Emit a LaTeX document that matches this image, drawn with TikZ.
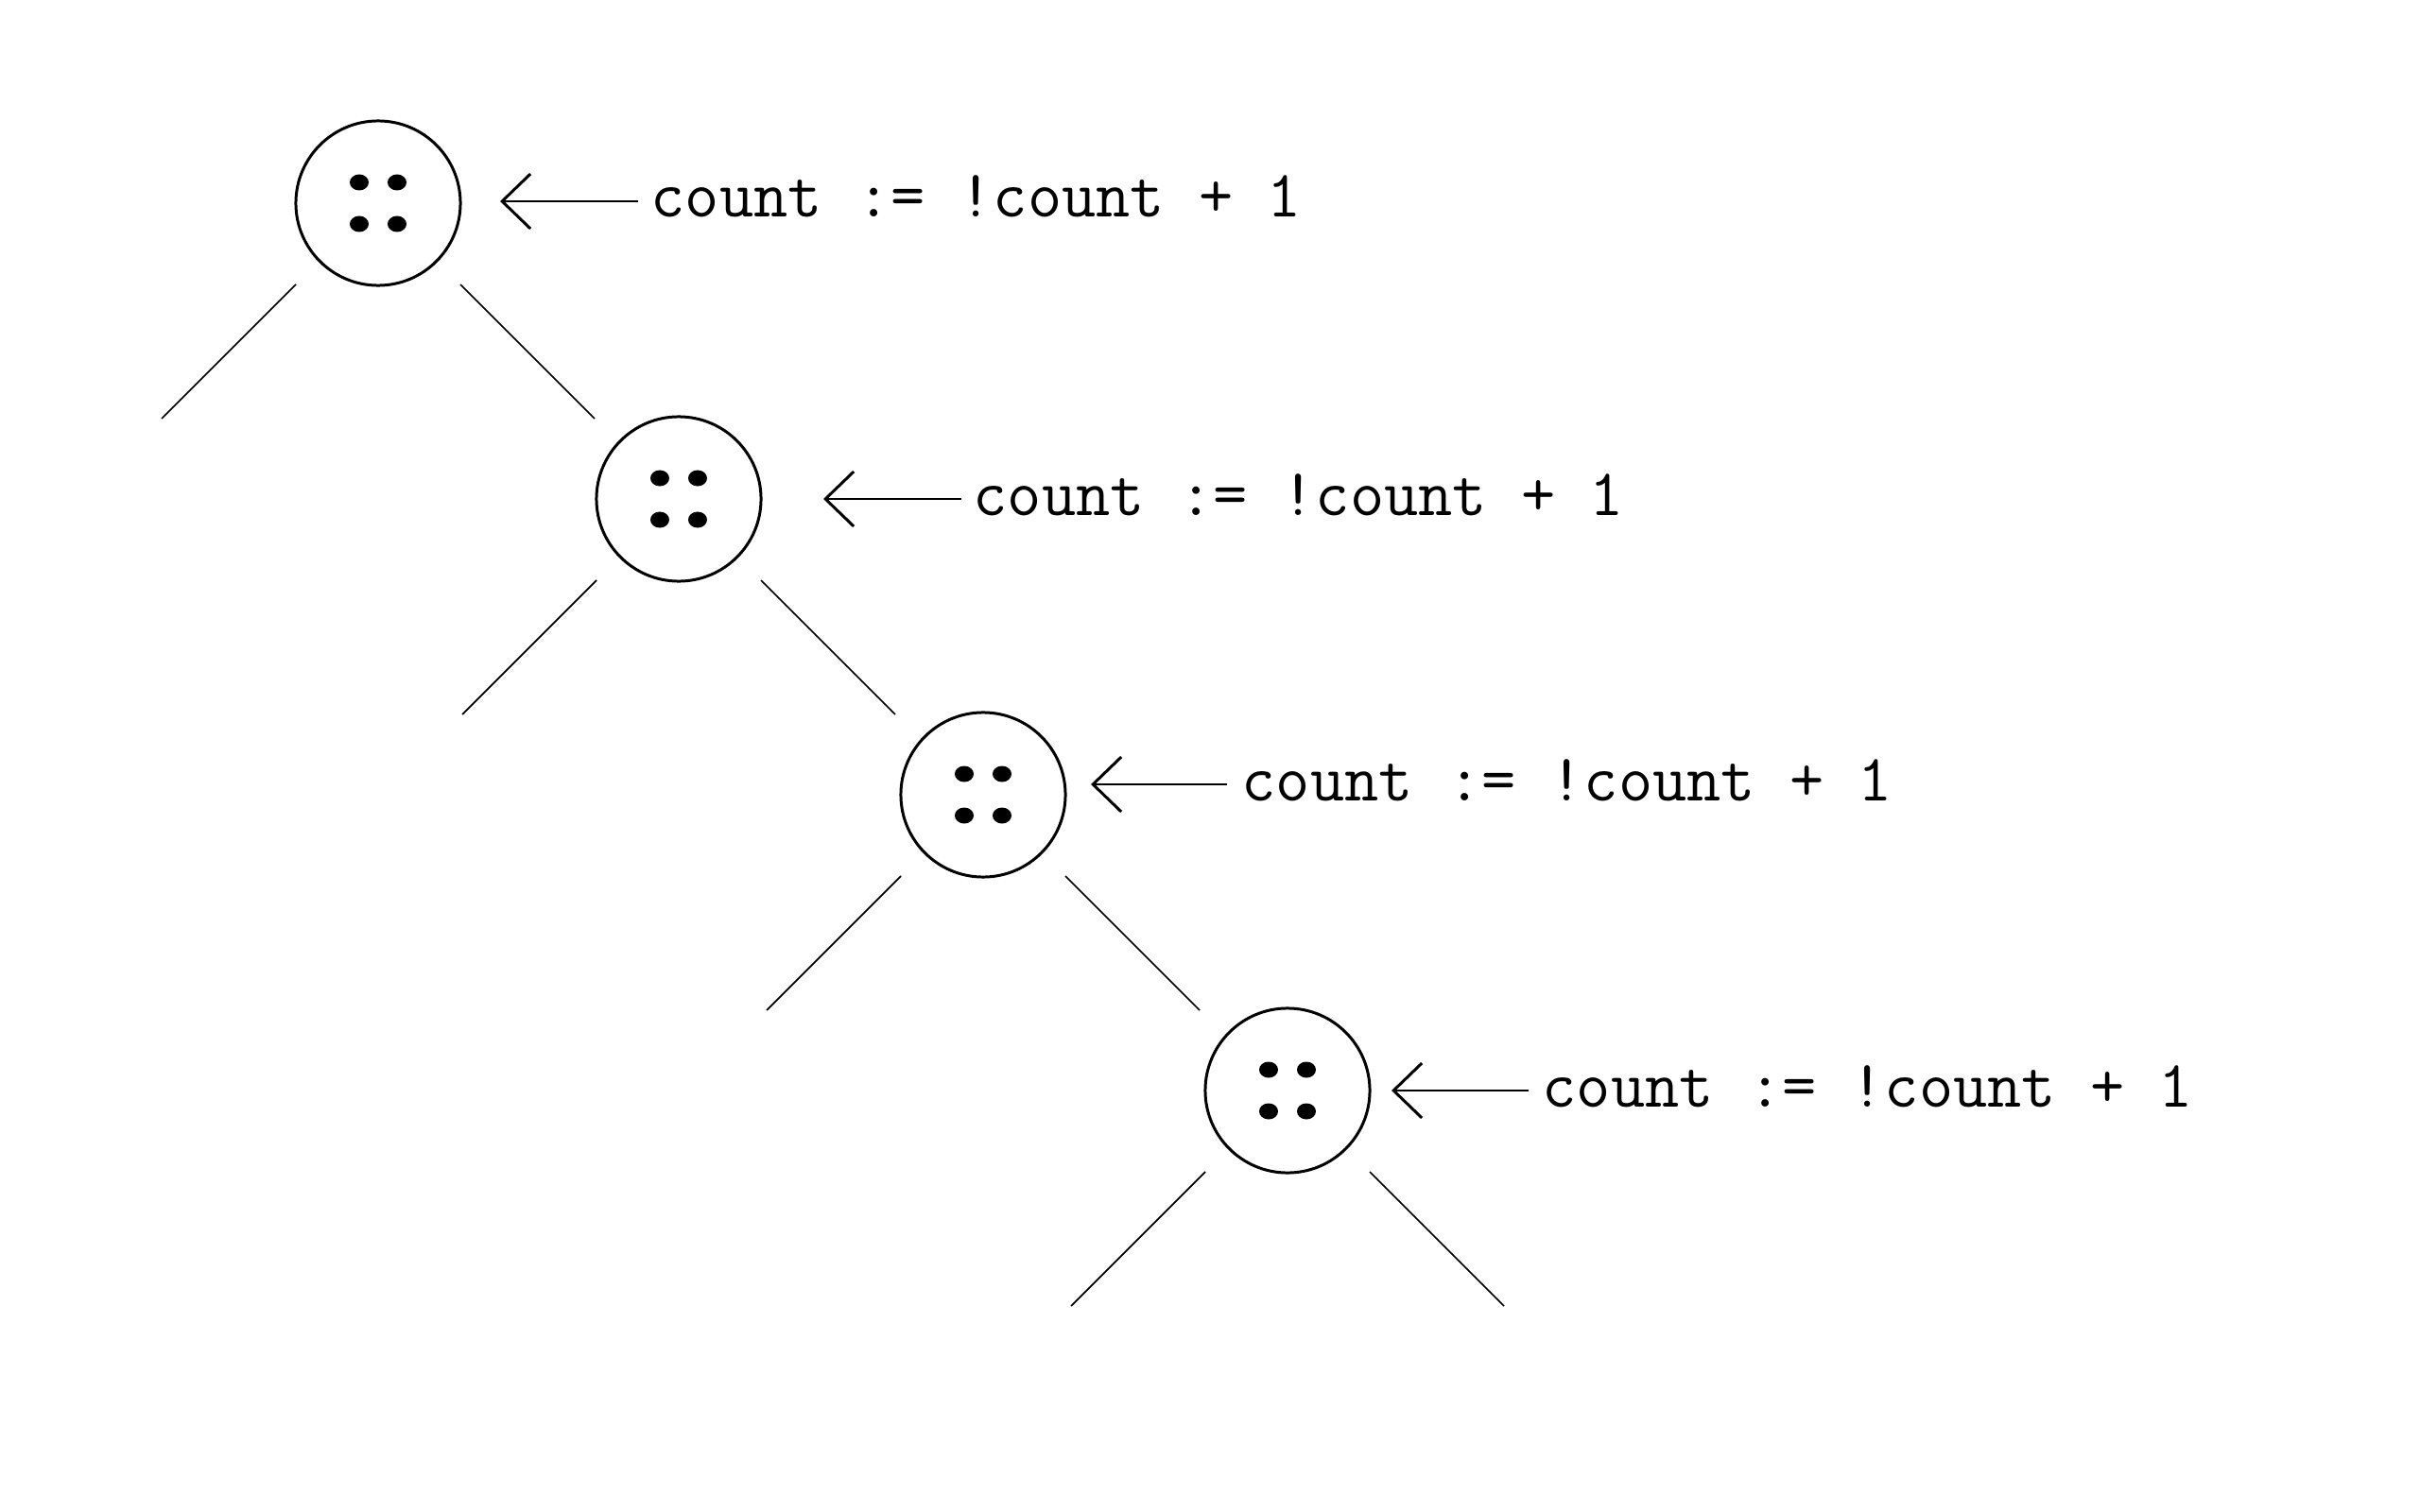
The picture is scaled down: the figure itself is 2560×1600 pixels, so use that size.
\documentclass[tikz,border=0pt]{standalone}
\usetikzlibrary{arrows.meta,calc}
\begin{document}
\begin{tikzpicture}[x=0.01cm,y=-0.01cm,
  bubble/.style={circle,draw,line width=0.85pt,minimum size=1.74cm,inner sep=0},
  branch/.style={line width=0.5pt},
  callout/.style={line width=0.55pt,{Straight Barb[length=0.3cm,width=0.58cm,line width=0.85pt]}-},
  codetext/.style={anchor=base west,inner sep=0,font=\ttfamily\fontsize{20}{24}\selectfont}]
\useasboundingbox (0,0) rectangle (2560,1600);
\foreach \i/\cx/\cy/\tip/\ls/\tx/\ay in {1/400/215/529/675/692/213,
                                         2/718/528/871/1017/1033/528,
                                         3/1040/841/1154/1298/1317/830,
                                         4/1362/1154/1472/1617/1635/1154}{
  \node[bubble] (n\i) at (\cx,\cy) {};
  \foreach \dx/\dy in {-20/-22,20/-22,-20/22,20/22}
    \fill ($(n\i)+(\dx,\dy)$) ellipse [x radius=0.1cm,y radius=0.085cm];
  \coordinate (bl\i) at ($(n\i)+(-87,86)$);
  \coordinate (br\i) at ($(n\i)+(87,86)$);
  \coordinate (el\i) at ($(n\i)+(-229,228)$);
  \coordinate (er\i) at ($(n\i)+(229,228)$);
  \draw[branch] (bl\i) -- (el\i);
  \draw[branch] (br\i) -- (er\i);
  \node[codetext] (t\i) at (\tx-4,\ay+17) {count := !count + 1};
  \coordinate (s\i) at (\ls,\ay);
  \coordinate (a\i) at (\tip,\ay);
  \draw[callout] (a\i) -- (s\i);
}
\end{tikzpicture}
\end{document}
